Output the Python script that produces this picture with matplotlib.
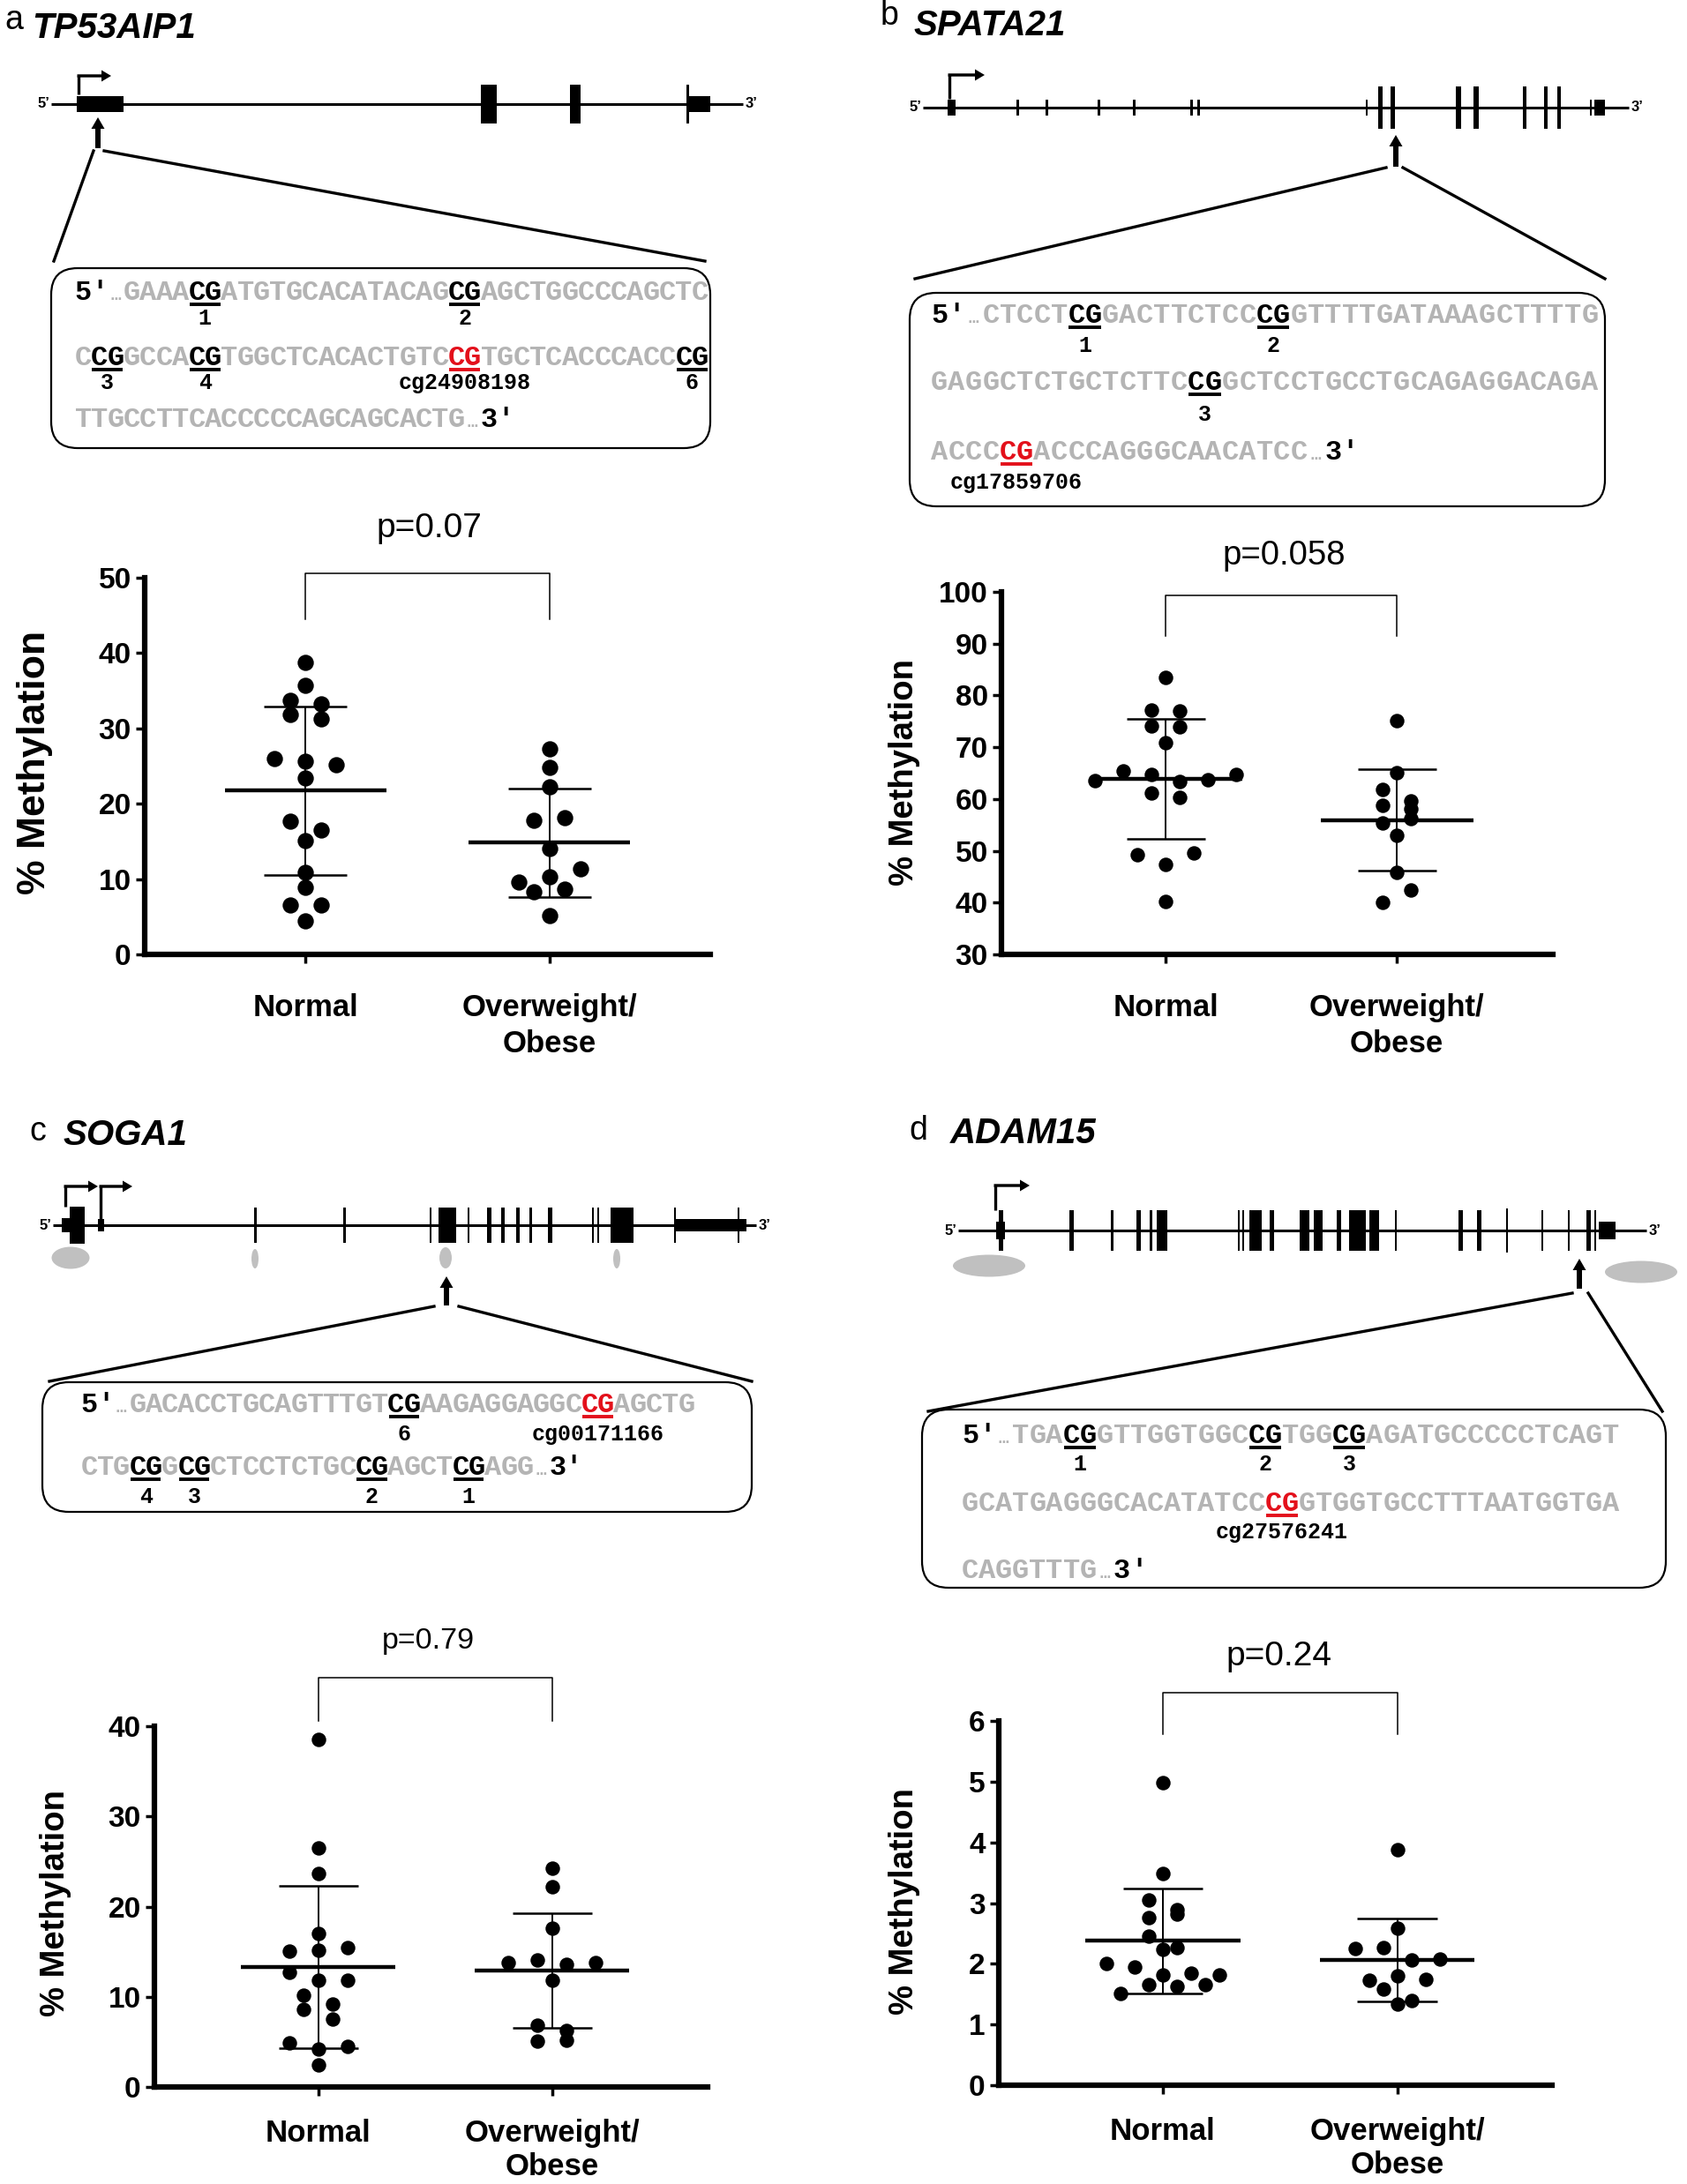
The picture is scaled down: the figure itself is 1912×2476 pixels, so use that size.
import matplotlib.pyplot as plt
import numpy as np
from matplotlib.patches import FancyBboxPatch, Ellipse, Rectangle, FancyArrow

W, H = 1912, 2476

groups = ['Normal', 'Overweight/\nObese']
genes = ['TP53AIP1', 'SPATA21', 'SOGA1', 'ADAM15']
p_labels = ['p=0.07', 'p=0.058', 'p=0.79', 'p=0.24']

# % methylation, one value per subject
a_normal = [38.8, 35.7, 33.7, 31.8, 33.3, 31.3, 26.0, 25.6, 25.2, 23.4, 17.7, 16.5,
            15.1, 10.9, 8.9, 6.6, 6.6, 4.4]
a_obese = [27.3, 24.8, 22.3, 17.8, 18.1, 14.1, 9.6, 10.3, 11.3, 8.3, 8.7, 5.2]
b_normal = [83.4, 77.1, 77.0, 74.1, 73.9, 70.9, 63.5, 65.5, 64.7, 63.3, 63.8, 64.8,
            61.2, 60.4, 49.3, 47.4, 49.6, 40.3]
b_obese = [75.2, 65.0, 61.8, 58.7, 59.6, 58.1, 55.4, 56.2, 53.0, 45.8, 40.1, 42.4]
c_normal = [38.5, 26.5, 23.7, 17.0, 15.1, 15.2, 15.5, 12.7, 11.8, 11.8, 10.2, 9.2,
            8.6, 7.5, 4.9, 4.2, 4.5, 2.4]
c_obese = [24.3, 22.2, 17.6, 13.8, 14.1, 13.6, 13.8, 11.8, 6.8, 6.3, 5.1, 5.2]
d_normal = [4.99, 3.48, 3.05, 2.76, 2.89, 2.82, 2.46, 2.24, 2.26, 2.01, 1.95, 1.81,
            1.84, 1.82, 1.51, 1.66, 1.63, 1.65]
d_obese = [3.88, 2.58, 2.25, 2.26, 2.06, 2.08, 1.73, 1.80, 1.75, 1.58, 1.34, 1.39]

# amplicon sequences: [CG] = pyrosequenced CpG, {CG} = array CpG
a_seq = ['5′…GAAA[CG]ATGTGCACATACAG[CG]AGCTGGCCCAGCTC',
         'C[CG]GCCA[CG]TGGCTCACACTGTC{CG}TGCTCACCCACC[CG]',
         'TTGCCTTCACCCCCAGCAGCACTG…3′']
a_cpg = [['1', '2'], ['3', '4', 'cg24908198', '6'], []]
b_seq = ['5′…CTCCT[CG]GACTTCTCC[CG]GTTTTGATAAAGCTTTTG',
         'GAGGCTCTGCTCTTC[CG]GCTCCTGCCTGCAGAGGACAGA',
         'ACCC{CG}ACCCAGGGCAACATCC…3′']
b_cpg = [['1', '2'], ['3'], ['cg17859706']]
c_seq = ['5′…GACACCTGCAGTTTGT[CG]AAGAGGAGGC{CG}AGCTG',
         'CTG[CG]G[CG]CTCCTCTGC[CG]AGCT[CG]AGG…3′']
c_cpg = [['6', 'cg00171166'], ['4', '3', '2', '1']]
d_seq = ['5′…TGA[CG]GTTGGTGGC[CG]TGG[CG]AGATGCCCCCTCAGT',
         'GCATGAGGGCACATATCC{CG}GTGGTGCCTTTAATGGTGA',
         'CAGGTTTG…3′']
d_cpg = [['1', '2', '3'], ['cg27576241'], []]

plt.rcParams['font.family'] = ['Liberation Sans', 'DejaVu Sans']
MONO = ['Liberation Mono', 'DejaVu Sans Mono']
GREY = '#b4b4b4'
RED = '#e3101b'

fig = plt.figure(figsize=(W / 100, H / 100), dpi=100)
ov = fig.add_axes([0, 0, 1, 1])
ov.set_xlim(0, W)
ov.set_ylim(H, 0)
ov.axis('off')


def draw_gene(g):
    y = g['y']
    ov.plot([g['x0'], g['x1']], [y, y], color='k', lw=2.2, solid_capstyle='butt')
    for xa, xb, hh in g['exons']:
        ov.add_patch(Rectangle((xa, y - hh), xb - xa, 2 * hh, fc='k', ec='none'))
    ov.text(g['x0'] - 2, y, '5’', ha='right', va='center', fontsize=12, weight='bold')
    ov.text(g['x1'] + 3, y, '3’', ha='left', va='center', fontsize=12, weight='bold')
    for x, yb, yt, xe in g['tss']:
        ov.plot([x, x], [yb, yt], color='k', lw=2.4, solid_capstyle='butt')
        ov.add_patch(FancyArrow(x - 1.5, yt, xe - x + 1.5, 0, width=3.4, head_width=13,
                                head_length=11, length_includes_head=True, fc='k', ec='none'))
    for cx, cy, w, h in g.get('islands', []):
        ov.add_patch(Ellipse((cx, cy), w, h, fc='#c0c0c0', ec='none'))
    x, yb, yt = g['arrow']
    ov.add_patch(FancyArrow(x, yb, 0, yt - yb, width=6, head_width=15, head_length=13,
                            length_includes_head=True, fc='k', ec='none'))
    for (xa, ya), (xb, yb2) in g['zoom']:
        ov.plot([xa, xb], [ya, yb2], color='k', lw=2.4)
    bx0, by0, bx1, by1 = g['box']
    ov.add_patch(FancyBboxPatch((bx0, by0), bx1 - bx0, by1 - by0,
                                boxstyle='round,pad=0,rounding_size=30',
                                fc='none', ec='k', lw=1.6))


def draw_seq(lines, cpg, x0, cw, bases, lab_bases):
    for line, labs, yb, yl in zip(lines, cpg, bases, lab_bases):
        col, colour, start, k = 0, None, 0, 0
        for ch in line:
            if ch in '[{':
                colour = 'k' if ch == '[' else RED
                start = col
                continue
            if ch in ']}':
                xa, xb = x0 + start * cw, x0 + col * cw
                ov.plot([xa + 1, xb - 1], [yb + 5, yb + 5], color=colour, lw=2.8,
                        solid_capstyle='butt')
                ov.text((xa + xb) / 2, yl, labs[k], ha='center', va='baseline',
                        family=MONO, fontsize=18, weight='bold', color='k')
                k += 1
                colour = None
                continue
            c = 'k' if ch in '53′' else (colour or GREY)
            fs = 14 if ch == '…' else 23
            ov.text(x0 + (col + 0.5) * cw, yb, ch, ha='center', va='baseline',
                    family=MONO, weight='bold', fontsize=fs, color=c)
            col += 1


def row_offsets(vals, px_per_unit, row_px):
    # Prism-like column scatter: group close values into rows, centre each row
    order = np.argsort(-vals, kind='stable')
    rows = []
    for i in order:
        if rows and (vals[rows[-1][0]] - vals[i]) * px_per_unit < row_px:
            rows[-1].append(i)
        else:
            rows.append([i])
    offs = np.zeros(len(vals))
    for r in rows:
        r = sorted(r)
        for k, i in enumerate(r):
            offs[i] = k - (len(r) - 1) / 2
    return offs


def dot_plot(rect, xlim, ylim, yticks, normal, obese, bracket, dot_px, step_px, size,
             xpad=25, xspacing=1.3):
    l, t, r, b = rect
    ax = fig.add_axes([l / W, 1 - b / H, (r - l) / W, (b - t) / H])
    ax.set_facecolor('none')
    ax.set_xlim(*xlim)
    ax.set_ylim(*ylim)
    py = (b - t) / (ylim[1] - ylim[0])
    px = (r - l) / (xlim[1] - xlim[0])
    for i, vals in enumerate([normal, obese]):
        vals = np.asarray(vals, dtype=float)
        offs = row_offsets(vals, py, 0.85 * dot_px) * step_px / px
        ax.scatter(i + offs, vals, s=size, color='k', zorder=3, clip_on=False, linewidths=0)
        m, sd = vals.mean(), vals.std(ddof=1)
        ax.hlines(m, i - 0.33, i + 0.33, color='k', lw=3.2, zorder=4)
        ax.vlines(i, m - sd, m + sd, color='k', lw=1.4, zorder=2)
        ax.hlines([m - sd, m + sd], i - 0.17, i + 0.17, color='k', lw=1.8, zorder=2)
    top, leg = bracket
    ax.plot([0, 0, 1, 1], [leg, top, top, leg], color='k', lw=1.1, clip_on=False)
    for s in ['top', 'right']:
        ax.spines[s].set_visible(False)
    for s in ['left', 'bottom']:
        ax.spines[s].set_linewidth(4.5)
    ax.tick_params(axis='both', width=2.5, length=7, direction='out')
    ax.tick_params(axis='y', pad=4)
    ax.tick_params(axis='x', pad=xpad)
    ax.set_yticks(yticks, [str(v) for v in yticks], fontweight='bold', fontsize=24)
    ax.set_xticks([0, 1], groups, fontweight='bold', fontsize=25, linespacing=xspacing)
    return ax


# ---------- panel a ----------
ov.text(5, 33, 'a', fontsize=27, va='baseline')
ov.text(36, 43, genes[0], fontsize=29, weight='bold', style='italic', va='baseline')
draw_gene(dict(y=118, x0=58, x1=842,
               exons=[(87, 140, 9), (545, 563, 22), (646, 658, 22), (778, 781, 22), (779, 805, 9)],
               tss=[(89, 107, 86, 126)], arrow=(111, 168, 133),
               zoom=[((106, 171), (61, 296)), ((118, 171), (799, 296))],
               box=(58, 304, 805, 508)))
draw_seq(a_seq, a_cpg, 85, 18.4, [340, 414, 484], [368, 441, None])
dot_plot((164, 655, 805, 1082), (-0.66, 1.66), (0, 50), [0, 10, 20, 30, 40, 50],
         a_normal, a_obese, (50.6, 44.5), 19, 35, 175)
ov.text(486, 599, p_labels[0], fontsize=28, ha='center', va='center')
ov.text(40, 864, '% Methylation', fontsize=32, weight='bold', rotation=90,
        ha='center', va='center')

# ---------- panel b ----------
ov.text(998, 28, 'b', fontsize=27, va='baseline')
ov.text(1036, 40, genes[1], fontsize=29, weight='bold', style='italic', va='baseline')
draw_gene(dict(y=122, x0=1046, x1=1846,
               exons=[(1074, 1083, 9), (1152, 1155, 9), (1185, 1188, 9), (1244, 1247, 9),
                      (1284, 1287, 9), (1349, 1352, 9), (1357, 1360, 9), (1548, 1550, 9),
                      (1562, 1567, 24), (1576, 1581, 24), (1650, 1656, 24), (1670, 1676, 24),
                      (1726, 1730, 24), (1750, 1754, 24), (1765, 1769, 24), (1802, 1804, 9),
                      (1807, 1819, 9)],
               tss=[(1076, 112, 85, 1116)], arrow=(1582, 189, 153),
               zoom=[((1571, 190), (1037, 316)), ((1590, 190), (1819, 316))],
               box=(1031, 332, 1819, 574)))
draw_seq(b_seq, b_cpg, 1055, 19.4, [366, 442, 521], [399, 477, 554])
dot_plot((1135, 671, 1760, 1082), (-0.71, 1.675), (30, 100), list(range(30, 101, 10)),
         b_normal, b_obese, (99.4, 91.5), 17, 32, 140)
ov.text(1455, 630, p_labels[1], fontsize=27.5, ha='center', va='center')
ov.text(1025, 876, '% Methylation', fontsize=27.5, weight='bold', rotation=90,
        ha='center', va='center')

# ---------- panel c ----------
ov.text(33, 1293, 'c', fontsize=27, va='baseline')
ov.text(72, 1298, genes[2], fontsize=29, weight='bold', style='italic', va='baseline')
draw_gene(dict(y=1389, x0=60, x1=857,
               exons=[(70, 80, 8), (79, 96, 21), (111, 118, 7), (288, 291, 20), (389, 392, 20),
                      (487, 489, 20), (497, 517, 20), (530, 532, 20), (552, 557, 20),
                      (568, 572, 20), (585, 589, 20), (600, 603, 20), (621, 626, 20),
                      (671, 673, 20), (677, 679, 20), (692, 718, 20), (764, 766, 20),
                      (765, 846, 7), (836, 838, 20)],
               tss=[(74, 1368, 1345, 111), (114, 1382, 1345, 150)],
               islands=[(80, 1426, 43, 25), (289, 1427, 8, 22), (505, 1426, 14, 24),
                        (699, 1427, 8, 22)],
               arrow=(506, 1480, 1447),
               zoom=[((492, 1481), (56, 1566)), ((520, 1481), (852, 1566))],
               box=(48, 1567, 852, 1714)))
draw_seq(c_seq, c_cpg, 92, 18.3, [1601, 1672], [1633, 1704])
dot_plot((175, 1957, 802, 2366), (-0.70, 1.664), (0, 40), [0, 10, 20, 30, 40],
         c_normal, c_obese, (45.4, 40.6), 17, 33, 140, xpad=19, xspacing=1.2)
ov.text(485, 1860, p_labels[2], fontsize=24.5, ha='center', va='center')
ov.text(63, 2158, '% Methylation', fontsize=27.5, weight='bold', rotation=90,
        ha='center', va='center')

# ---------- panel d ----------
ov.text(1030, 1292, 'd', fontsize=27, va='baseline')
ov.text(1077, 1296, genes[3], fontsize=29, weight='bold', style='italic', va='baseline')
draw_gene(dict(y=1395, x0=1086, x1=1866,
               exons=[(1132, 1137, 23), (1129, 1139, 10), (1212, 1217, 23), (1259, 1262, 23),
                      (1288, 1293, 23), (1303, 1306, 23), (1311, 1323, 23), (1403, 1405, 23),
                      (1408, 1410, 23), (1416, 1430, 23), (1439, 1444, 23), (1473, 1484, 23),
                      (1489, 1499, 23), (1515, 1520, 23), (1529, 1548, 23), (1552, 1563, 23),
                      (1581, 1583, 23), (1653, 1658, 23), (1674, 1679, 23), (1707, 1709, 25),
                      (1747, 1749, 23), (1777, 1779, 23), (1798, 1803, 23), (1807, 1809, 23),
                      (1812, 1831, 10)],
               tss=[(1128, 1372, 1344, 1167)],
               islands=[(1121, 1435, 82, 25), (1860, 1442, 82, 25)],
               arrow=(1790, 1461, 1427),
               zoom=[((1782, 1466), (1052, 1600)), ((1800, 1466), (1884, 1600))],
               box=(1045, 1598, 1888, 1800)))
draw_seq(d_seq, d_cpg, 1090, 19.1, [1636, 1713, 1789], [1667, 1744, None])
dot_plot((1132, 1951, 1759, 2364), (-0.70, 1.66), (0, 6), [0, 1, 2, 3, 4, 5, 6],
         d_normal, d_obese, (6.47, 5.78), 17, 32, 140, xpad=19, xspacing=1.2)
ov.text(1449, 1878, p_labels[3], fontsize=28, ha='center', va='center')
ov.text(1025, 2156, '% Methylation', fontsize=27.5, weight='bold', rotation=90,
        ha='center', va='center')

plt.savefig('out.png', dpi=100)
